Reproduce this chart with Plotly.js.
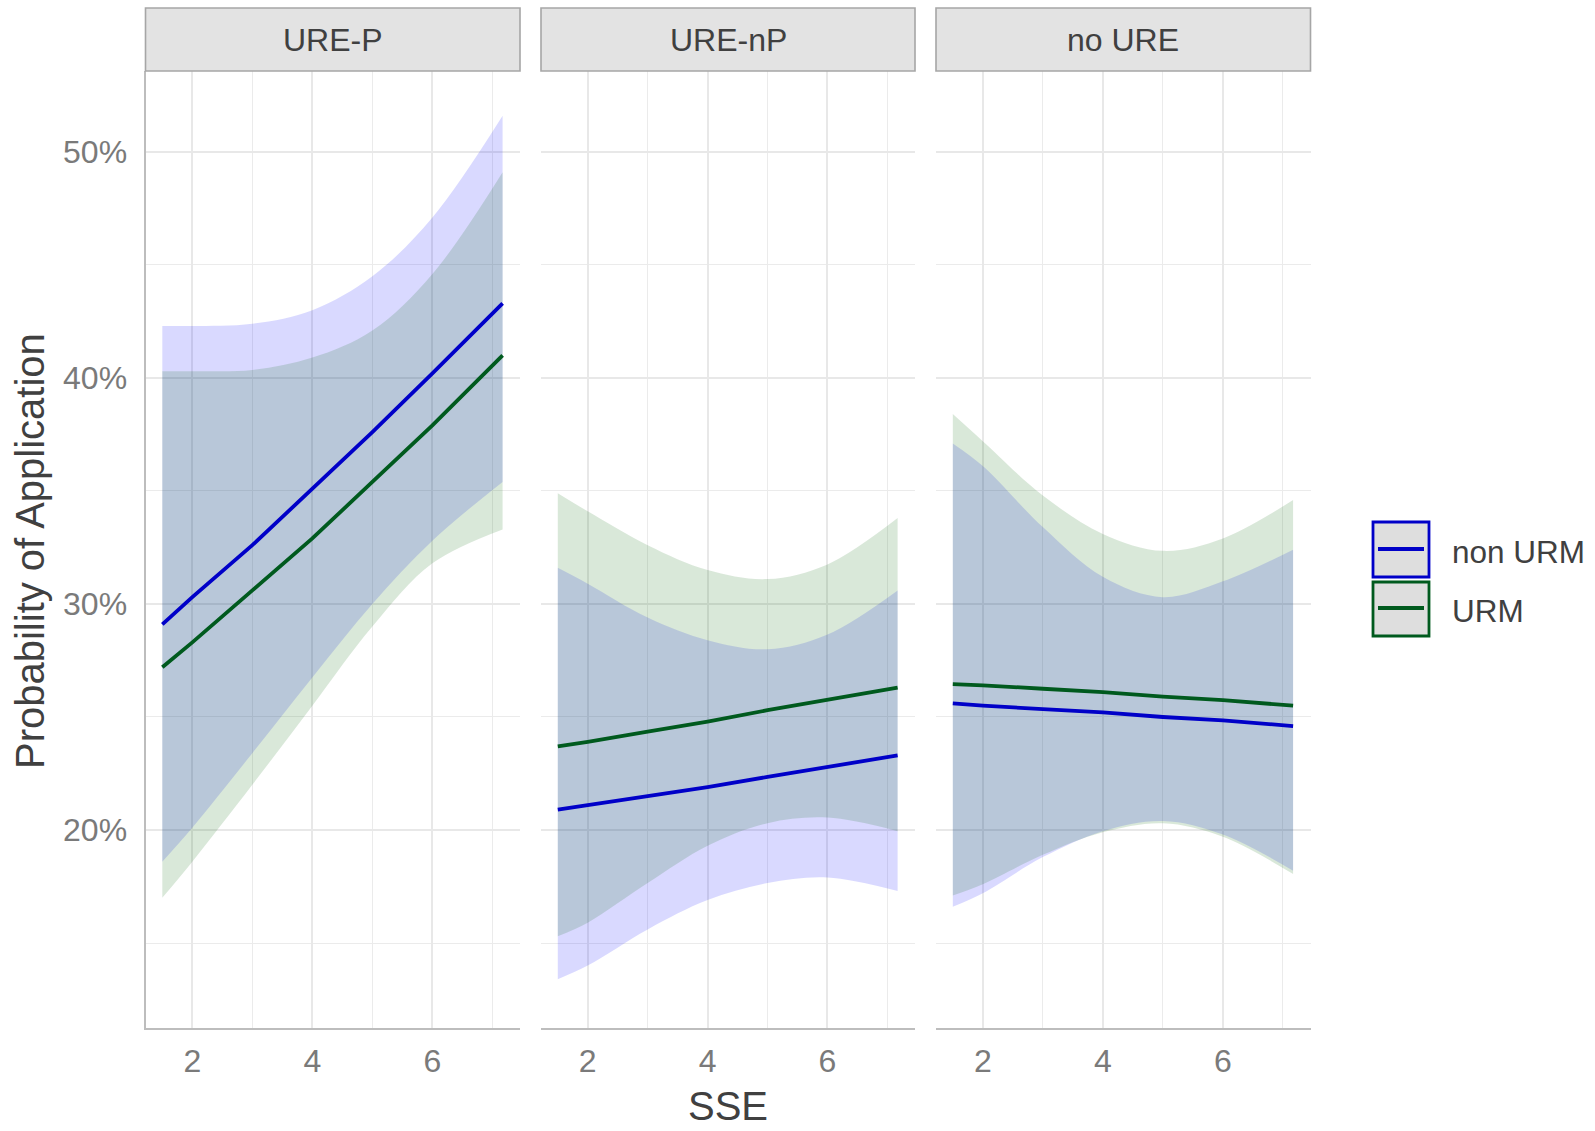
<!DOCTYPE html>
<html>
<head>
<meta charset="utf-8">
<script src="https://cdn.plot.ly/plotly-3.0.1.min.js"></script>
<style>html,body{margin:0;padding:0;background:#fff;}</style>
</head>
<body>
<div id="chart" style="width:1595px;height:1131px;"></div>
<script>
// ---- data (in percent) ----
const panels = ["URE-P", "URE-nP", "no URE"];
const groups = ["non URM", "URM"];
const sse = [1.5, 2, 3, 4, 5, 6, 7.17];

// URE-P
const p1_nonURM_fit   = [29.1, 30.3, 32.6, 35.1, 37.6, 40.2, 43.3];
const p1_nonURM_upper = [42.3, 42.3, 42.4, 43.0, 44.5, 47.1, 51.6];
const p1_nonURM_lower = [18.6, 20.1, 23.4, 26.75, 30.0, 32.8, 35.4];
const p1_URM_fit      = [27.2, 28.3, 30.6, 32.9, 35.4, 37.9, 41.0];
const p1_URM_upper    = [40.3, 40.3, 40.35, 40.9, 42.1, 44.6, 49.1];
const p1_URM_lower    = [17.0, 18.6, 22.0, 25.5, 29.0, 31.8, 33.3];

// URE-nP
const p2_nonURM_fit   = [20.9, 21.1, 21.5, 21.9, 22.35, 22.8, 23.3];
const p2_nonURM_upper = [31.6, 30.9, 29.4, 28.4, 28.0, 28.65, 30.6];
const p2_nonURM_lower = [13.4, 14.0, 15.6, 16.9, 17.65, 17.9, 17.3];
const p2_URM_fit      = [23.7, 23.9, 24.35, 24.8, 25.3, 25.75, 26.3];
const p2_URM_upper    = [34.9, 34.1, 32.6, 31.5, 31.1, 31.75, 33.8];
const p2_URM_lower    = [15.3, 15.9, 17.65, 19.3, 20.3, 20.55, 19.95];

// no URE
const p3_nonURM_fit   = [25.6, 25.5, 25.35, 25.2, 25.0, 24.85, 24.6];
const p3_nonURM_upper = [37.1, 36.1, 33.4, 31.2, 30.3, 31.0, 32.4];
const p3_nonURM_lower = [16.6, 17.2, 18.8, 19.95, 20.4, 19.8, 18.2];
const p3_URM_fit      = [26.45, 26.4, 26.25, 26.1, 25.9, 25.75, 25.5];
const p3_URM_upper    = [38.4, 37.2, 34.8, 33.1, 32.35, 32.9, 34.6];
const p3_URM_lower    = [17.1, 17.6, 18.9, 19.9, 20.3, 19.7, 18.05];

const xTickVals = [2, 4, 6];
const yTickVals = [20, 30, 40, 50];
const yTickText = ["20%", "30%", "40%", "50%"];

// ---- styling ----
const W = 1595, H = 1131;
const FONT = "Liberation Sans, Arial, sans-serif";
const lineColors = {"non URM": "#0000c8", "URM": "#005a1e"};
const fillColors = {"non URM": "rgba(0,0,255,0.15)", "URM": "rgba(0,100,0,0.15)"};
const pxX = v => v / W;
const pxY = v => 1 - v / H;

const panelData = [
  {fit: [p1_nonURM_fit, p1_URM_fit], up: [p1_nonURM_upper, p1_URM_upper], lo: [p1_nonURM_lower, p1_URM_lower]},
  {fit: [p2_nonURM_fit, p2_URM_fit], up: [p2_nonURM_upper, p2_URM_upper], lo: [p2_nonURM_lower, p2_URM_lower]},
  {fit: [p3_nonURM_fit, p3_URM_fit], up: [p3_nonURM_upper, p3_URM_upper], lo: [p3_nonURM_lower, p3_URM_lower]}
];
const panelPx = [[145.5, 520], [541, 915], [936, 1310.5]];
const plotTop = 71, plotBottom = 1028;

const traces = [];
panelData.forEach((pd, i) => {
  const xa = i === 0 ? "x" : "x" + (i + 1);
  const ya = i === 0 ? "y" : "y" + (i + 1);
  groups.forEach((g, k) => {
    traces.push({x: sse, y: pd.lo[k], xaxis: xa, yaxis: ya, type: "scatter", mode: "lines",
      line: {width: 0, shape: "spline", smoothing: 1}, showlegend: false, hoverinfo: "skip"});
    traces.push({x: sse, y: pd.up[k], xaxis: xa, yaxis: ya, type: "scatter", mode: "lines",
      line: {width: 0, shape: "spline", smoothing: 1}, fill: "tonexty", fillcolor: fillColors[g],
      showlegend: false, hoverinfo: "skip"});
  });
  groups.forEach((g, k) => {
    traces.push({x: sse, y: pd.fit[k], xaxis: xa, yaxis: ya, type: "scatter", mode: "lines",
      line: {width: 3.8, color: lineColors[g], shape: "linear"}, name: g, showlegend: false});
  });
});

const layout = {
  width: W, height: H,
  margin: {l: 0, r: 0, t: 0, b: 0},
  paper_bgcolor: "#ffffff", plot_bgcolor: "#ffffff",
  font: {family: FONT, color: "#404040"},
  showlegend: false,
  shapes: [], annotations: []
};

panelPx.forEach((p, i) => {
  const sfx = i === 0 ? "" : String(i + 1);
  layout["xaxis" + sfx] = {
    domain: [pxX(p[0]), pxX(p[1])], range: [1.22, 7.46], anchor: "y" + sfx,
    tickvals: xTickVals, ticktext: xTickVals.map(String),
    showgrid: true, gridcolor: "#e8e8e8", gridwidth: 2,
    minor: {tickvals: [1, 3, 5, 7], showgrid: true, gridcolor: "#ebebeb", gridwidth: 1, ticks: ""},
    showline: true, linecolor: "#bdbdbd", linewidth: 2, zeroline: false,
    ticks: "", ticklabelstandoff: 4,
    tickfont: {family: FONT, size: 32, color: "#7a7a7a"}, automargin: false
  };
  layout["yaxis" + sfx] = {
    domain: [pxY(plotBottom), pxY(plotTop)], range: [11.24, 53.58], anchor: "x" + sfx,
    tickvals: yTickVals, ticktext: yTickText,
    showgrid: true, gridcolor: "#e8e8e8", gridwidth: 2,
    minor: {tickvals: [15, 25, 35, 45], showgrid: true, gridcolor: "#ebebeb", gridwidth: 1, ticks: ""},
    showline: i === 0, linecolor: "#bdbdbd", linewidth: 2, zeroline: false,
    showticklabels: i === 0, ticks: "", ticklabelstandoff: 10,
    tickfont: {family: FONT, size: 32, color: "#7a7a7a"}, automargin: false
  };
  // strip
  layout.shapes.push({type: "rect", xref: "paper", yref: "paper",
    x0: pxX(p[0]), x1: pxX(p[1]), y0: pxY(plotTop), y1: pxY(8),
    fillcolor: "#e3e3e3", line: {color: "#a6a6a6", width: 1.6}, layer: "above"});
  layout.annotations.push({xref: "paper", yref: "paper", x: pxX((p[0] + p[1]) / 2), y: pxY(40),
    text: panels[i], showarrow: false, xanchor: "center", yanchor: "middle",
    font: {family: FONT, size: 32, color: "#404040"}});
});

// axis titles
layout.annotations.push({xref: "paper", yref: "paper", x: pxX(728), y: pxY(1106),
  text: "SSE", showarrow: false, xanchor: "center", yanchor: "middle",
  font: {family: FONT, size: 40, color: "#404040"}});
layout.annotations.push({xref: "paper", yref: "paper", x: pxX(30), y: pxY(551),
  text: "Probability of Application", textangle: -90, showarrow: false,
  xanchor: "center", yanchor: "middle",
  font: {family: FONT, size: 40, color: "#404040"}});

// legend (custom keys)
const keyBoxes = [[522, 577, 549, 552], [582, 636, 608, 611]];
groups.forEach((g, k) => {
  const b = keyBoxes[k];
  layout.shapes.push({type: "rect", xref: "paper", yref: "paper",
    x0: pxX(1373), x1: pxX(1429), y0: pxY(b[1]), y1: pxY(b[0]),
    fillcolor: "#dedede", line: {color: lineColors[g], width: 2.8}});
  layout.shapes.push({type: "line", xref: "paper", yref: "paper",
    x0: pxX(1378), x1: pxX(1424), y0: pxY(b[2]), y1: pxY(b[2]),
    line: {color: lineColors[g], width: 4}});
  layout.annotations.push({xref: "paper", yref: "paper", x: pxX(1450), y: pxY(b[3]),
    text: g, showarrow: false, xanchor: "left", yanchor: "middle",
    font: {family: FONT, size: 31.5, color: "#404040"}});
});

Plotly.newPlot("chart", traces, layout, {displayModeBar: false, staticPlot: true});
</script>
</body>
</html>
